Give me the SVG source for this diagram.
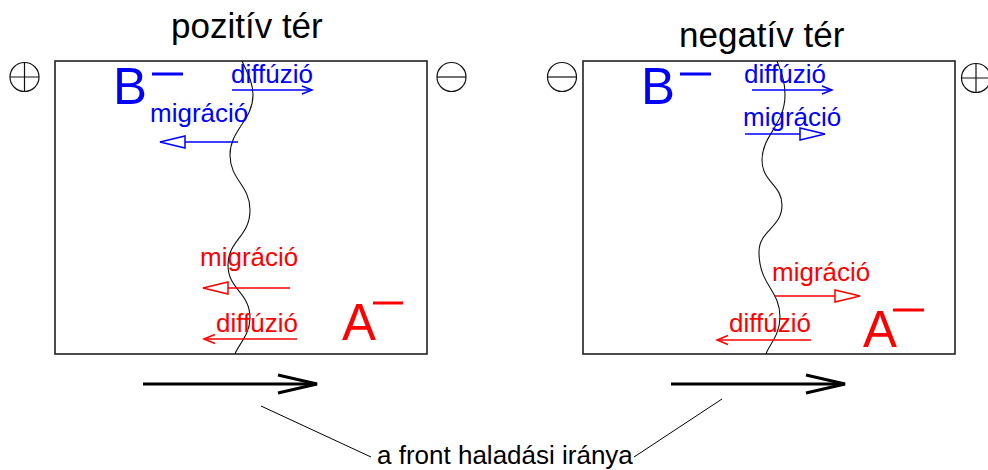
<svg xmlns="http://www.w3.org/2000/svg" width="988" height="470" viewBox="0 0 988 470">
<style>
.box{fill:none;stroke:#222;stroke-width:1.6}
.pole{fill:none;stroke:#111;stroke-width:1.2}
.wave{fill:none;stroke:#111;stroke-width:1.1}
.t{font-family:"Liberation Sans",Arial,sans-serif}
.title{font-size:35px;fill:#000}
.lab{font-size:26px}
.big{font-size:51px}
.blue{fill:#0000ff}
.red{fill:#ff0000}
.ab{stroke:#0000ff;stroke-width:1.5;fill:none}
.ar{stroke:#ff0000;stroke-width:1.5;fill:none}
.bar{stroke-width:3}
.front{stroke:#000;stroke-width:3;fill:none}
.lead{stroke:#000;stroke-width:1;fill:none}
</style>
<defs>
<marker id="chevB" markerUnits="userSpaceOnUse" markerWidth="16" markerHeight="12" viewBox="-12 -6 14 12" refX="0" refY="0" orient="auto" overflow="visible"><path d="M-10,-4 L0,0 L-10,4" fill="none" stroke="#0000ff" stroke-width="1.5"/></marker>
<marker id="chevR" markerUnits="userSpaceOnUse" markerWidth="16" markerHeight="12" viewBox="-12 -6 14 12" refX="0" refY="0" orient="auto" overflow="visible"><path d="M-11,-4.5 L0,0 L-11,4.5" fill="none" stroke="#ff0000" stroke-width="1.5"/></marker>
<marker id="triB" markerUnits="userSpaceOnUse" markerWidth="30" markerHeight="16" viewBox="-27 -8 29 16" refX="0" refY="0" orient="auto" overflow="visible"><path d="M0,0 L-25,-6 L-25,6 Z" fill="#fff" stroke="#0000ff" stroke-width="1.5"/></marker>
<marker id="triR" markerUnits="userSpaceOnUse" markerWidth="30" markerHeight="16" viewBox="-27 -8 29 16" refX="0" refY="0" orient="auto" overflow="visible"><path d="M0,0 L-25,-6 L-25,6 Z" fill="#fff" stroke="#ff0000" stroke-width="1.5"/></marker>
<marker id="bigHead" markerUnits="userSpaceOnUse" markerWidth="44" markerHeight="24" viewBox="-42 -12 44 24" refX="0" refY="0" orient="auto" overflow="visible"><path d="M-39,-9 L0,0 L-39,9" fill="none" stroke="#000" stroke-width="3"/></marker>
</defs>

<g id="titles">
<text class="t title" x="171" y="38">pozitív tér</text>
<text class="t title" x="679" y="47">negatív tér</text>
</g>

<g id="left-cell">
<rect class="box" x="55" y="61" width="372" height="293"/>
<path class="wave" d="M242,61 C247,72 253,82 253,95 C253,120 230,130 230,155 C230,180 250,185 250,210 C250,237 228,240 228,265 C228,290 250,292 250,318 C250,335 238,345 235,354"/>
</g>
<g id="left-plus">
<circle class="pole" cx="24.5" cy="77" r="14.5"/>
<path class="pole" d="M10,77 H39 M24.5,62.5 V91.5"/>
</g>
<g id="left-minus">
<circle class="pole" cx="451.5" cy="77" r="14.5"/>
<path class="pole" d="M437,77 H466"/>
</g>
<g id="left-B">
<text class="t big blue" x="113" y="104">B</text>
<path class="ab bar" d="M152,74 H183"/>
</g>
<g id="left-A">
<text class="t big red" x="342" y="340">A</text>
<path class="ar bar" d="M373,303 H403"/>
</g>
<g id="left-labels">
<text class="t lab blue" x="231" y="83">diffúzió</text>
<text class="t lab blue" x="150" y="122">migráció</text>
<text class="t lab red" x="200" y="266">migráció</text>
<text class="t lab red" x="216" y="332">diffúzió</text>
</g>

<g id="right-cell">
<rect class="box" x="583" y="61" width="372" height="293"/>
<path class="wave" d="M777,61 C781,72 785,80 785,95 C785,125 762,135 762,160 C762,182 782,185 782,205 C782,228 759,230 759,252 C759,285 780,290 780,317 C780,335 769,345 766,354"/>
</g>
<g id="right-minus">
<circle class="pole" cx="562" cy="77" r="14.5"/>
<path class="pole" d="M547.5,77 H576.5"/>
</g>
<g id="right-plus">
<circle class="pole" cx="976" cy="78" r="14.5"/>
<path class="pole" d="M961.5,78 H990 M976,63.5 V92.5"/>
</g>
<g id="right-B">
<text class="t big blue" x="641" y="104">B</text>
<path class="ab bar" d="M680,74 H711"/>
</g>
<g id="right-A">
<text class="t big red" x="863" y="347">A</text>
<path class="ar bar" d="M893,310 H924"/>
</g>
<g id="right-labels">
<text class="t lab blue" x="744" y="83">diffúzió</text>
<text class="t lab blue" x="743" y="126">migráció</text>
<text class="t lab red" x="772" y="281">migráció</text>
<text class="t lab red" x="729" y="332">diffúzió</text>
</g>

<g id="bottom-label">
<text class="t lab" x="377" y="464" fill="#000">a front haladási iránya</text>
</g>

<g id="connectors">
<path class="ab" d="M232,90 H312" marker-end="url(#chevB)"/>
<path class="ab" d="M238,142 H160" marker-end="url(#triB)"/>
<path class="ar" d="M290,288 H203" marker-end="url(#triR)"/>
<path class="ar" d="M297,339 H204" marker-end="url(#chevR)"/>
<path class="ab" d="M752,90 H832" marker-end="url(#chevB)"/>
<path class="ab" d="M745,134 H825" marker-end="url(#triB)"/>
<path class="ar" d="M775,296 H860" marker-end="url(#triR)"/>
<path class="ar" d="M811,340 H717" marker-end="url(#chevR)"/>
<path class="front" d="M143,384 H317" marker-end="url(#bigHead)"/>
<path class="front" d="M671,384 H845" marker-end="url(#bigHead)"/>
<path class="lead" d="M261,406 L371,457"/>
<path class="lead" d="M722,399 L634,457"/>
</g>
</svg>
